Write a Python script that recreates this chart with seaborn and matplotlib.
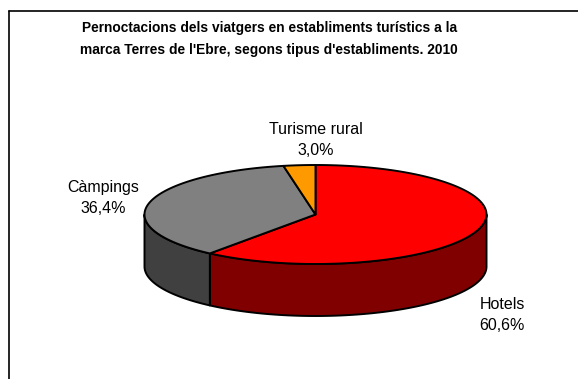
import numpy as np
import matplotlib
matplotlib.use("Agg")
import matplotlib.pyplot as plt
from matplotlib.patches import Polygon
from matplotlib.lines import Line2D
import seaborn as sns

# Overnight stays by type of establishment (percent share)
categories = ["Hotels", "Càmpings", "Turisme rural"]
shares = [60.6, 36.4, 3.0]
top_colors = ["#FF0000", "#808080", "#FF9900"]
side_colors = ["#800000", "#404040", "#995C00"]

title_lines = [
    "Pernoctacions dels viatgers en establiments turístics a la",
    "marca Terres de l'Ebre, segons tipus d'establiments. 2010",
]

sns.set_theme(style="white")
plt.rcParams["font.family"] = ["Liberation Sans", "DejaVu Sans"]
plt.rcParams["text.color"] = "black"

W, H = 578, 379
fig = plt.figure(figsize=(W / 100, H / 100), dpi=100)
ax = fig.add_axes([0, 0, 1, 1])
ax.set_xlim(0, W)
ax.set_ylim(0, H)
ax.set_axis_off()

# pie geometry (y axis points up)
cx, cy = 315.5, H - 214.5
rx, ry = 171.0, 49.5
depth = 52.0


def rim(t_deg, drop=0.0):
    t = np.radians(t_deg)
    return np.column_stack([cx + rx * np.cos(t), cy + ry * np.sin(t) - drop])


# slices run clockwise from 12 o'clock
total = float(sum(shares))
spans = [s / total * 360.0 for s in shares]
ranges = []
end = 90.0 + 360.0
for sp in spans:
    start = end - sp
    ranges.append((start, end))
    end = start

# side walls: only the front half (180..360 deg, and 540..720 after wrap)
for (a0, a1), col in zip(ranges, side_colors):
    for lo, hi in ((180.0, 360.0), (540.0, 720.0)):
        s0, s1 = max(a0, lo), min(a1, hi)
        if s1 <= s0:
            continue
        ts = np.linspace(s0, s1, 120)
        pts = np.vstack([rim(ts), rim(ts[::-1], depth)])
        ax.add_patch(Polygon(pts, closed=True, facecolor=col,
                             edgecolor="black", linewidth=1.4, joinstyle="round"))

# top faces
for (a0, a1), col in zip(ranges, top_colors):
    ts = np.linspace(a0, a1, 200)
    pts = np.vstack([[cx, cy], rim(ts)])
    ax.add_patch(Polygon(pts, closed=True, facecolor=col,
                         edgecolor="black", linewidth=1.4, joinstyle="round"))

# category labels with their percentages
label_pos = {"Hotels": (502, 315), "Càmpings": (103, 198), "Turisme rural": (316, 140)}
for cat, val in zip(categories, shares):
    x, y = label_pos[cat]
    txt = f"{cat}\n{val:.1f}".replace(".", ",") + "%"
    ax.text(x, H - y, txt, ha="center", va="center", fontsize=11.5,
            linespacing=1.5, color="black")

# title
ax.text(270, H - 28, title_lines[0], ha="center", va="center",
        fontsize=9.9, fontweight="bold", color="black")
ax.text(269, H - 50, title_lines[1], ha="center", va="center",
        fontsize=9.9, fontweight="bold", color="black")

# chart area border (left and top edges fall inside the image)
fig.add_artist(Line2D([8.5 / W, 8.5 / W], [0, 1 - 10.5 / H], transform=fig.transFigure,
                      color="black", linewidth=1.2))
fig.add_artist(Line2D([8.5 / W, 1], [1 - 10.5 / H, 1 - 10.5 / H], transform=fig.transFigure,
                      color="black", linewidth=1.2))

fig.savefig("out.png", dpi=100, facecolor="white")
